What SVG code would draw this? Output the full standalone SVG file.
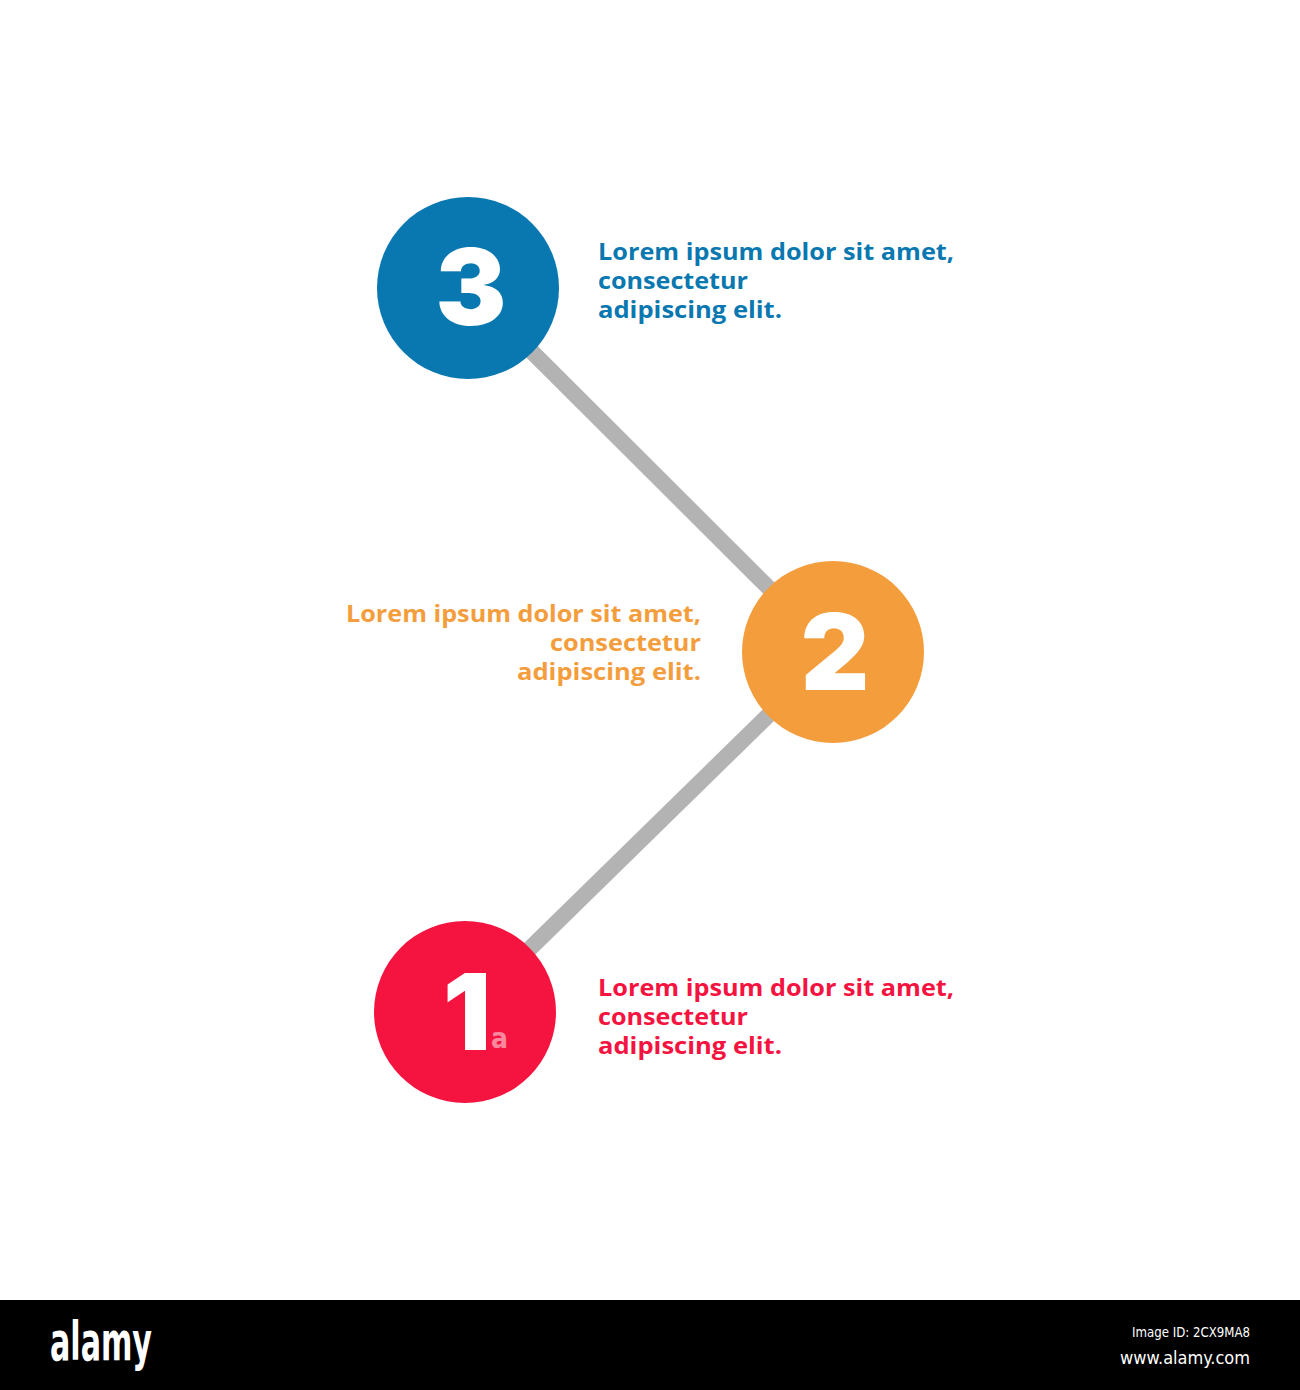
<svg xmlns="http://www.w3.org/2000/svg" width="1300" height="1390" viewBox="0 0 1300 1390">
<style>
.num{font-family:Inter,"Open Sans","DejaVu Sans",sans-serif;font-weight:900;fill:#fff;text-anchor:middle}
.lbl{font-family:"Open Sans","DejaVu Sans",sans-serif;font-weight:700;font-size:23px}
.conn{stroke:#b3b3b3;stroke-width:16;fill:none}
.wm{font-family:"DejaVu Sans",sans-serif;font-weight:700;font-stretch:condensed}
</style>
<rect width="1300" height="1390" fill="#fff"/>
<g id="connectors">
<line class="conn" x1="468" y1="288" x2="833" y2="652"/>
<line class="conn" x1="833" y1="652" x2="465" y2="1012"/>
</g>
<g id="node3">
<circle cx="468" cy="288" r="91" fill="#0a78b0"/>
<text class="num" x="471" y="325" font-size="106">3</text>
<text class="lbl" fill="#0a78b0"><tspan x="598" y="260" textLength="356" lengthAdjust="spacingAndGlyphs">Lorem ipsum dolor sit amet,</tspan><tspan x="598" y="289" textLength="150" lengthAdjust="spacingAndGlyphs">consectetur</tspan><tspan x="598" y="318" textLength="184" lengthAdjust="spacingAndGlyphs">adipiscing elit.</tspan></text>
</g>
<g id="node2">
<circle cx="833" cy="652" r="91" fill="#f39d3c"/>
<text class="num" x="835" y="690" font-size="106">2</text>
<text class="lbl" fill="#f39d3c"><tspan x="346" y="622" textLength="355" lengthAdjust="spacingAndGlyphs">Lorem ipsum dolor sit amet,</tspan><tspan x="550" y="651" textLength="151" lengthAdjust="spacingAndGlyphs">consectetur</tspan><tspan x="517" y="680" textLength="184" lengthAdjust="spacingAndGlyphs">adipiscing elit.</tspan></text>
</g>
<g id="node1">
<circle cx="465" cy="1012" r="91" fill="#f5133f"/>
<text class="num" x="467" y="1050" font-size="106">1</text>
<text class="wm" x="491" y="1048" font-size="28" fill="#fff" fill-opacity="0.5">a</text>
<text class="lbl" fill="#f5133f"><tspan x="598" y="996" textLength="356" lengthAdjust="spacingAndGlyphs">Lorem ipsum dolor sit amet,</tspan><tspan x="598" y="1025" textLength="150" lengthAdjust="spacingAndGlyphs">consectetur</tspan><tspan x="598" y="1054" textLength="184" lengthAdjust="spacingAndGlyphs">adipiscing elit.</tspan></text>
</g>
<g id="footer">
<rect x="0" y="1300" width="1300" height="90" fill="#000"/>
<text x="50" y="1360" font-family="'DejaVu Sans',sans-serif" font-weight="700" font-stretch="condensed" font-size="54" fill="#fff" textLength="102" lengthAdjust="spacingAndGlyphs">alamy</text>
<text x="1250" y="1337" font-family="'DejaVu Sans',sans-serif" font-stretch="condensed" font-size="14" fill="#fff" text-anchor="end" textLength="118" lengthAdjust="spacingAndGlyphs">Image ID: 2CX9MA8</text>
<text x="1250" y="1364" font-family="'DejaVu Sans',sans-serif" font-stretch="condensed" font-size="18" fill="#fff" text-anchor="end" textLength="130" lengthAdjust="spacingAndGlyphs">www.alamy.com</text>
</g>
</svg>
